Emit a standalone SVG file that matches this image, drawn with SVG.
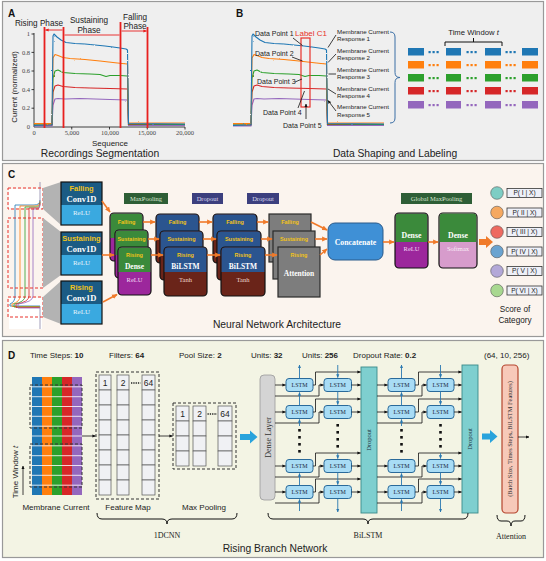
<svg xmlns="http://www.w3.org/2000/svg" width="546" height="561" viewBox="0 0 546 561">
<style>
.s{font-family:"Liberation Sans",Arial,sans-serif}
.r{font-family:"Liberation Serif","Times New Roman",serif}
.pl{font-family:"Liberation Sans",Arial,sans-serif;font-weight:bold;font-size:10px;fill:#111}
.ti{font-family:"Liberation Sans",Arial,sans-serif;font-size:10.3px;fill:#222;text-anchor:middle}
.tk{font-family:"Liberation Serif",serif;font-size:6.5px;fill:#444}
.ph{font-family:"Liberation Sans",Arial,sans-serif;font-size:8.2px;fill:#222;text-anchor:middle}
.dp{font-family:"Liberation Sans",Arial,sans-serif;font-size:7px;fill:#222}
.mc{font-family:"Liberation Sans",Arial,sans-serif;font-size:6.2px;fill:#222}
.ln{fill:none;stroke:#111;stroke-width:0.8}
.cu{fill:none;stroke-width:1.1;stroke-linejoin:round}
.rv{stroke:#e8201f;stroke-width:1.8}
.ra{stroke:#e8201f;stroke-width:0.9;fill:none}
.oa{stroke:#f07a2a;stroke-width:1.6;fill:none}
.cb{stroke:#111;stroke-width:1.2}
.yl{font-family:"Liberation Sans",Arial,sans-serif;font-weight:bold;fill:#f2c318;text-anchor:middle}
.wl{font-family:"Liberation Serif",serif;font-weight:bold;fill:#fff;text-anchor:middle}
.lt{font-family:"Liberation Serif",serif;text-anchor:middle}
.hd{font-family:"Liberation Sans",Arial,sans-serif;font-size:8px;fill:#222}
.cell{fill:#f0f1f4;stroke:#555;stroke-width:0.7}
.dash{fill:none;stroke:#333;stroke-width:1;stroke-dasharray:3 2}
.lstm{fill:#a8dcf5;stroke:#2a6a9a;stroke-width:1}
.lx{font-family:"Liberation Serif",serif;font-size:6px;fill:#1a2a40;text-anchor:middle}
.ba{fill:none;stroke:#2a78b0;stroke-width:0.9}
.br{fill:none;stroke:#111;stroke-width:1}
.cap{font-family:"Liberation Serif",serif;font-size:8px;fill:#222;text-anchor:middle}
.plab{font-family:"Liberation Sans",Arial,sans-serif;font-size:6.6px;fill:#222;text-anchor:middle}
</style>
<defs>
<marker id="mk" viewBox="0 0 8 8" refX="7" refY="4" markerWidth="4.5" markerHeight="4.5" orient="auto-start-reverse"><path d="M0,0.5L8,4L0,7.5z" fill="#111"/></marker>
<marker id="mr" viewBox="0 0 8 8" refX="7" refY="4" markerWidth="4" markerHeight="4" orient="auto-start-reverse"><path d="M0,0.5L8,4L0,7.5z" fill="#e8201f"/></marker>
<marker id="mo" viewBox="0 0 8 8" refX="7" refY="4" markerWidth="3.5" markerHeight="3.5" orient="auto"><path d="M0,0.5L8,4L0,7.5z" fill="#f07a2a"/></marker>
<marker id="mb" viewBox="0 0 8 8" refX="7" refY="4" markerWidth="4" markerHeight="4" orient="auto"><path d="M0,0.5L8,4L0,7.5z" fill="#2a78b0"/></marker>
<filter id="jit" x="-5%" y="-10%" width="110%" height="120%"><feTurbulence type="fractalNoise" baseFrequency="0.7" numOctaves="1" seed="3" result="n"/><feDisplacementMap in="SourceGraphic" in2="n" scale="2" xChannelSelector="R" yChannelSelector="G"/></filter>
<g id="curves">
<path class="cu" stroke="#9467bd" d="M34,126 L52,126 L53,105 L55,99 L58,98.5 L65,99 L80,98.5 L95,99 L110,99.5 L127.5,100 L128.5,125.5 L185,125.5"/>
<path class="cu" stroke="#d62728" d="M34,125 L52,125 L53,92 L55,86 L58,85 L63,86.5 L75,87.5 L90,88 L110,88.5 L127.5,89 L128.5,124.5 L185,124.5"/>
<path class="cu" stroke="#2ca02c" d="M34,124 L52,124 L53,78 L55,71 L58,70 L63,72.5 L75,73.5 L90,74 L100,74.5 L106,76.5 L110,75.5 L120,75.5 L127.5,76 L128.5,124 L185,124.5"/>
<path class="cu" stroke="#ff7f0e" d="M34,123.5 L52,123.5 L53,58 L55,54.5 L58,55.5 L63,57.5 L70,58.5 L85,59.5 L100,61 L113,62.5 L122,63.5 L127.5,64 L128.5,123 L185,123"/>
<path class="cu" stroke="#1f77b4" d="M34,125.5 L52,125 L53,36 L54,34 L57,37 L61,40 L66,42.5 L75,43.5 L85,44 L95,45 L105,46 L113,47 L120,48 L126,49 L127.5,50 L128.5,123.5 L185,124"/>
</g>
</defs>
<rect width="546" height="561" fill="#fff"/>
<rect x="2.5" y="1.5" width="541" height="159" fill="#efefef" stroke="#999" stroke-width="1.2"/>
<rect x="2.5" y="163.5" width="541" height="173" fill="#fbf4ee" stroke="#999" stroke-width="1.2"/>
<rect x="2.5" y="340.5" width="541" height="217" fill="#f3f4e4" stroke="#999" stroke-width="1.2"/>

<!-- Panel A -->
<g id="panelA">
<text class="pl" x="8" y="17">A</text>
<path class="ln" stroke="#555" d="M34,33 V127 H185 M31.5,34 H34 M31.5,52.4 H34 M31.5,71 H34 M31.5,89.6 H34 M31.5,108.2 H34 M71.75,127 V129.5 M109.5,127 V129.5 M147.25,127 V129.5 M185,127 V129.5"/>
<g class="tk" text-anchor="end"><text x="30" y="36">1</text><text x="30" y="54.5">0.8</text><text x="30" y="73">0.6</text><text x="30" y="91.5">0.4</text><text x="30" y="110">0.2</text><text x="30" y="129">0</text></g>
<g class="tk" text-anchor="middle"><text x="34" y="135">0</text><text x="72" y="135">5,000</text><text x="110" y="135">10,000</text><text x="147" y="135">15,000</text><text x="185" y="135">20,000</text></g>
<use href="#curves" filter="url(#jit)"/>
<path class="rv" d="M44.5,27 V128 M63.5,27 V128 M120.5,22 V128 M147.5,27 V128"/>
<path class="ra" d="M45.5,30 H62.5 M64.5,35 H119.5 M121.5,31 H146.5" marker-start="url(#mr)" marker-end="url(#mr)"/>
<text class="ph" x="39" y="26">Rising Phase</text>
<text class="ph" x="89" y="23">Sustaining</text><text class="ph" x="89" y="33">Phase</text>
<text class="ph" x="135" y="20">Falling</text><text class="ph" x="135" y="29">Phase</text>
<text class="s" font-size="7.8" fill="#222" text-anchor="middle" transform="translate(17,87) rotate(-90)">Current (normalized)</text>
<text class="s" font-size="8" fill="#222" text-anchor="middle" x="110" y="146">Sequence</text>
<text class="ti" x="100" y="157">Recordings Segmentation</text>
</g>

<!-- Panel B -->
<g id="panelB">
<text class="pl" x="236" y="17">B</text>
<use href="#curves" transform="translate(199,0)" filter="url(#jit)"/>
<rect x="301" y="38" width="9" height="69" fill="none" stroke="#e8312a" stroke-width="1.2"/>
<text class="s" font-size="8" fill="#e8312a" x="295" y="36">Label C1</text>
<text class="dp" x="255" y="36">Data Point 1</text>
<text class="dp" x="255" y="56">Data Point 2</text>
<text class="dp" x="257" y="84">Data Point 3</text>
<text class="dp" x="263" y="115">Data Point 4</text>
<text class="dp" x="283" y="128">Data Point 5</text>
<path class="ln" d="M293,38 L302.5,45.5 M292,57 L302.5,61 M295,82 L302,79 M298,108 L304.5,91 M306,119 V104" marker-end="url(#mk)"/>
<g class="mc"><text x="337" y="34">Membrane Current</text><text x="337" y="41">Response 1</text>
<text x="337" y="53">Membrane Current</text><text x="337" y="60">Response 2</text>
<text x="337" y="72">Membrane Current</text><text x="337" y="79">Response 3</text>
<text x="337" y="91">Membrane Current</text><text x="337" y="98">Response 4</text>
<text x="337" y="109">Membrane Current</text><text x="337" y="117">Response 5</text></g>
<path class="ln" d="M336,35 L328,47.5 M336,54 L328,62.5 M336,74 L328.5,74 M336,94 L328,89 M336,111 L328,100.5" marker-end="url(#mk)"/>
<path fill="none" stroke="#3a6ea5" stroke-width="1" d="M390,32 Q395,32 395,37 V72.5 Q395,77.5 400,77.5 Q395,77.5 395,82.5 V118 Q395,123 390,123"/>
<text class="s" font-size="7.7" fill="#222" text-anchor="middle" x="473.5" y="35">Time Window <tspan font-style="italic">t</tspan></text>
<path class="br" d="M445,46 V42 H502 V46 M473.5,42 V38"/>
<g id="bars">
<g fill="#1f77b4"><rect x="408" y="48" width="16" height="7.5"/><rect x="446" y="48" width="15" height="7.5"/><rect x="485" y="48" width="16" height="7.5"/><rect x="522" y="48" width="16" height="7.5"/><rect x="428.5" y="51" width="2.2" height="2.2"/><rect x="432.5" y="51" width="2.2" height="2.2"/><rect x="436.5" y="51" width="2.2" height="2.2"/><rect x="466.5" y="51" width="2.2" height="2.2"/><rect x="470.5" y="51" width="2.2" height="2.2"/><rect x="474.5" y="51" width="2.2" height="2.2"/><rect x="505.5" y="51" width="2.2" height="2.2"/><rect x="509.5" y="51" width="2.2" height="2.2"/><rect x="513.5" y="51" width="2.2" height="2.2"/></g>
<g fill="#ff7f0e"><rect x="408" y="61" width="16" height="7.5"/><rect x="446" y="61" width="15" height="7.5"/><rect x="485" y="61" width="16" height="7.5"/><rect x="522" y="61" width="16" height="7.5"/><rect x="428.5" y="64" width="2.2" height="2.2"/><rect x="432.5" y="64" width="2.2" height="2.2"/><rect x="436.5" y="64" width="2.2" height="2.2"/><rect x="466.5" y="64" width="2.2" height="2.2"/><rect x="470.5" y="64" width="2.2" height="2.2"/><rect x="474.5" y="64" width="2.2" height="2.2"/><rect x="505.5" y="64" width="2.2" height="2.2"/><rect x="509.5" y="64" width="2.2" height="2.2"/><rect x="513.5" y="64" width="2.2" height="2.2"/></g>
<g fill="#2ca02c"><rect x="408" y="74" width="16" height="7.5"/><rect x="446" y="74" width="15" height="7.5"/><rect x="485" y="74" width="16" height="7.5"/><rect x="522" y="74" width="16" height="7.5"/><rect x="428.5" y="77" width="2.2" height="2.2"/><rect x="432.5" y="77" width="2.2" height="2.2"/><rect x="436.5" y="77" width="2.2" height="2.2"/><rect x="466.5" y="77" width="2.2" height="2.2"/><rect x="470.5" y="77" width="2.2" height="2.2"/><rect x="474.5" y="77" width="2.2" height="2.2"/><rect x="505.5" y="77" width="2.2" height="2.2"/><rect x="509.5" y="77" width="2.2" height="2.2"/><rect x="513.5" y="77" width="2.2" height="2.2"/></g>
<g fill="#d62728"><rect x="408" y="87" width="16" height="7.5"/><rect x="446" y="87" width="15" height="7.5"/><rect x="485" y="87" width="16" height="7.5"/><rect x="522" y="87" width="16" height="7.5"/><rect x="428.5" y="90" width="2.2" height="2.2"/><rect x="432.5" y="90" width="2.2" height="2.2"/><rect x="436.5" y="90" width="2.2" height="2.2"/><rect x="466.5" y="90" width="2.2" height="2.2"/><rect x="470.5" y="90" width="2.2" height="2.2"/><rect x="474.5" y="90" width="2.2" height="2.2"/><rect x="505.5" y="90" width="2.2" height="2.2"/><rect x="509.5" y="90" width="2.2" height="2.2"/><rect x="513.5" y="90" width="2.2" height="2.2"/></g>
<g fill="#9467bd"><rect x="408" y="101" width="16" height="7.5"/><rect x="446" y="101" width="15" height="7.5"/><rect x="485" y="101" width="16" height="7.5"/><rect x="522" y="101" width="16" height="7.5"/><rect x="428.5" y="104" width="2.2" height="2.2"/><rect x="432.5" y="104" width="2.2" height="2.2"/><rect x="436.5" y="104" width="2.2" height="2.2"/><rect x="466.5" y="104" width="2.2" height="2.2"/><rect x="470.5" y="104" width="2.2" height="2.2"/><rect x="474.5" y="104" width="2.2" height="2.2"/><rect x="505.5" y="104" width="2.2" height="2.2"/><rect x="509.5" y="104" width="2.2" height="2.2"/><rect x="513.5" y="104" width="2.2" height="2.2"/></g>
</g>
<text class="ti" x="395" y="157">Data Shaping and Labeling</text>
</g>

<!-- Panel C -->
<g id="panelC">
<text class="pl" x="8" y="178">C</text>
<g id="traces">
<rect x="9" y="189" width="33" height="19" fill="#fff"/>
<rect x="9" y="298" width="33" height="31" fill="#fff"/>
<g fill="none" stroke-width="0.8">
<path stroke="#1f77b4" d="M40,200 Q40,205 34,205 H15 V296 Q15,302 10,304 L10,306 H40"/>
<path stroke="#ff7f0e" d="M40,201 Q40,206 35,206 H20 V296 Q20,302 12,304 L12,306.5 H40"/>
<path stroke="#2ca02c" d="M40,202 Q40,207 36,207 H25 V296 Q25,302 14,304 L14,307 H40"/>
<path stroke="#d62728" d="M40,203 Q40,208 37,208 H29 V296 Q29,302 16,304 L16,307.5 H40"/>
<path stroke="#9467bd" d="M40,204 Q40,209 38,209 H33 V296 Q33,302 18,304 L18,308 H40"/>
<path stroke="#8a86a8" d="M40,182 V203 M40,306 V329"/>
</g>
<g fill="none" stroke="#e8312a" stroke-width="1" stroke-dasharray="3 2"><rect x="8" y="188" width="35" height="21"/><rect x="8" y="218" width="35" height="70"/><rect x="8" y="297" width="35" height="20"/></g>
<g fill="#b3b3b3"><polygon points="43,188 61,182 61,225 43,209"/><polygon points="43,218 61,232 61,275 43,288"/><polygon points="43,297 61,281 61,324 43,317"/></g>
</g>
<g id="conv-falling"><rect x="61" y="182" width="41" height="43" fill="#3aa9e0"/><rect x="61" y="182" width="41" height="23" fill="#1b5b84"/><rect x="61" y="182" width="41" height="43" fill="none" class="cb"/>
<text class="yl" font-size="7.5" x="81.5" y="191">Falling</text><text class="wl" font-size="8.5" x="81.5" y="202">Conv1D</text><text class="lt" font-size="7" fill="#e6f4fb" x="81.5" y="214.5">ReLU</text></g>
<g id="conv-sustaining"><rect x="61" y="232" width="41" height="43" fill="#3aa9e0"/><rect x="61" y="232" width="41" height="23" fill="#1b5b84"/><rect x="61" y="232" width="41" height="43" fill="none" class="cb"/>
<text class="yl" font-size="7.5" x="81.5" y="241">Sustaining</text><text class="wl" font-size="8.5" x="81.5" y="252">Conv1D</text><text class="lt" font-size="7" fill="#e6f4fb" x="81.5" y="264.5">ReLU</text></g>
<g id="conv-rising"><rect x="61" y="281" width="41" height="43" fill="#3aa9e0"/><rect x="61" y="281" width="41" height="23" fill="#1b5b84"/><rect x="61" y="281" width="41" height="43" fill="none" class="cb"/>
<text class="yl" font-size="7.5" x="81.5" y="290">Rising</text><text class="wl" font-size="8.5" x="81.5" y="301">Conv1D</text><text class="lt" font-size="7" fill="#e6f4fb" x="81.5" y="313.5">ReLU</text></g>

<g id="lab-maxpool"><rect x="124" y="193" width="44" height="11" fill="#2e5e36"/><text class="lt" font-size="6.5" fill="#d8e6d0" x="146" y="200.5">MaxPooling</text></g>
<g id="lab-drop1"><rect x="192" y="193" width="31" height="11" fill="#3c3f7e"/><text class="lt" font-size="6.5" fill="#d8d8ee" x="207.5" y="200.5">Dropout</text></g>
<g id="lab-drop2"><rect x="247" y="193" width="32" height="11" fill="#3c3f7e"/><text class="lt" font-size="6.5" fill="#d8d8ee" x="263" y="200.5">Dropout</text></g>
<g id="lab-gmp"><rect x="401" y="193" width="71" height="11" fill="#2e5e36"/><text class="lt" font-size="6.5" fill="#d8e6d0" x="436.5" y="200.5">Global MaxPooling</text></g>

<g id="dense-stack">
<rect x="110" y="213" width="33" height="48" rx="4" fill="#9c279c" class="cb"/><path d="M110.6,238 V217 Q110.6,213.6 114,213.6 H139 Q142.4,213.6 142.4,217 V238 Z" fill="#3b8a3b"/>
<text class="yl" font-size="5.5" x="126.5" y="224">Falling</text>
<rect x="115" y="230" width="33" height="48" rx="4" fill="#9c279c" class="cb"/><path d="M115.6,255 V234 Q115.6,230.6 119,230.6 H144 Q147.4,230.6 147.4,234 V255 Z" fill="#3b8a3b"/>
<text class="yl" font-size="5.5" x="131.5" y="241">Sustaining</text>
<rect x="118" y="247" width="33" height="48" rx="4" fill="#9c279c" class="cb"/><path d="M118.6,272 V251 Q118.6,247.6 122,247.6 H147 Q150.4,247.6 150.4,251 V272 Z" fill="#3b8a3b"/>
<text class="yl" font-size="5.5" x="134.5" y="257">Rising</text><text class="wl" font-size="7.5" x="134.5" y="268.5">Dense</text><text class="lt" font-size="6.5" fill="#f3d8f3" x="134.5" y="282">ReLU</text>
</g>
<g id="bilstm-stack1">
<rect x="156" y="214" width="43" height="49" rx="4" fill="#6a2419" class="cb"/><path d="M156.6,239 V218 Q156.6,214.6 160,214.6 H195 Q198.4,214.6 198.4,218 V239 Z" fill="#2b558f"/>
<text class="yl" font-size="5.5" x="177.5" y="224">Falling</text>
<rect x="160" y="231" width="43" height="49" rx="4" fill="#6a2419" class="cb"/><path d="M160.6,256 V235 Q160.6,231.6 164,231.6 H199 Q202.4,231.6 202.4,235 V256 Z" fill="#2b558f"/>
<text class="yl" font-size="5.5" x="181.5" y="241">Sustaining</text>
<rect x="164" y="247" width="43" height="49" rx="4" fill="#6a2419" class="cb"/><path d="M164.6,272 V251 Q164.6,247.6 168,247.6 H203 Q206.4,247.6 206.4,251 V272 Z" fill="#2b558f"/>
<text class="yl" font-size="5.5" x="185.5" y="257">Rising</text><text class="wl" font-size="7.5" x="185.5" y="269">BiLSTM</text><text class="lt" font-size="6.5" fill="#f0d8d0" x="185.5" y="282">Tanh</text>
</g>
<g id="bilstm-stack2">
<rect x="213" y="214" width="44" height="49" rx="4" fill="#6a2419" class="cb"/><path d="M213.6,239 V218 Q213.6,214.6 217,214.6 H253 Q256.4,214.6 256.4,218 V239 Z" fill="#2b558f"/>
<text class="yl" font-size="5.5" x="235" y="224">Falling</text>
<rect x="217" y="231" width="44" height="49" rx="4" fill="#6a2419" class="cb"/><path d="M217.6,256 V235 Q217.6,231.6 221,231.6 H257 Q260.4,231.6 260.4,235 V256 Z" fill="#2b558f"/>
<text class="yl" font-size="5.5" x="239" y="241">Sustaining</text>
<rect x="221" y="247" width="44" height="49" rx="4" fill="#6a2419" class="cb"/><path d="M221.6,272 V251 Q221.6,247.6 225,247.6 H261 Q264.4,247.6 264.4,251 V272 Z" fill="#2b558f"/>
<text class="yl" font-size="5.5" x="243" y="257">Rising</text><text class="wl" font-size="7.5" x="243" y="269">BiLSTM</text><text class="lt" font-size="6.5" fill="#f0d8d0" x="243" y="282">Tanh</text>
</g>
<g id="attention-stack">
<rect x="269" y="214" width="42" height="48" fill="#7d7d7d" stroke="#2a2a2a" stroke-width="1.2"/><text class="yl" font-size="5.5" x="290" y="224">Falling</text>
<rect x="273" y="231" width="42" height="48" fill="#7d7d7d" stroke="#2a2a2a" stroke-width="1.2"/><text class="yl" font-size="5.5" x="294" y="241">Sustaining</text>
<rect x="278" y="247" width="42" height="50" fill="#7d7d7d" stroke="#2a2a2a" stroke-width="1.2"/><text class="yl" font-size="5.5" x="299" y="257">Rising</text><text class="wl" font-size="7.5" x="299" y="276">Attention</text>
</g>
<g id="concatenate"><rect x="328" y="223" width="55" height="37" rx="7" fill="#3f90d6" stroke="#2a5a8a" stroke-width="1"/><text class="wl" font-size="7.8" x="355.5" y="244.5">Concatenate</text></g>
<g id="dense-relu"><rect x="395" y="213" width="33" height="55" rx="4" fill="#9c279c" class="cb"/><path d="M395.6,242 V217 Q395.6,213.6 399,213.6 H424 Q427.4,213.6 427.4,217 V242 Z" fill="#3b8a3b"/>
<text class="wl" font-size="7.8" x="411.5" y="237.5">Dense</text><text class="lt" font-size="6.5" fill="#f3d8f3" x="411.5" y="251">ReLU</text></g>
<g id="dense-softmax"><rect x="439" y="213" width="38" height="55" rx="4" fill="#d79ccc" class="cb"/><path d="M439.6,242 V217 Q439.6,213.6 443,213.6 H473 Q476.4,213.6 476.4,217 V242 Z" fill="#3b8a3b"/>
<text class="wl" font-size="7.8" x="458" y="237.5">Dense</text><text class="lt" font-size="6.5" fill="#fbeef8" x="458" y="251">Softmax</text></g>
<polygon points="479,239 486,239 486,236 493,242 486,248 486,245 479,245" fill="#f07a2a"/>
<g id="scores">
<circle cx="497" cy="193" r="6.3" fill="#7ecdc4" stroke="#555" stroke-width="0.6"/>
<circle cx="497" cy="212.5" r="6.3" fill="#f5a860" stroke="#555" stroke-width="0.6"/>
<circle cx="497" cy="232" r="6.3" fill="#ee6a60" stroke="#555" stroke-width="0.6"/>
<circle cx="497" cy="251.5" r="6.3" fill="#6aa3d0" stroke="#555" stroke-width="0.6"/>
<circle cx="497" cy="271" r="6.3" fill="#b3a8d8" stroke="#555" stroke-width="0.6"/>
<circle cx="497" cy="290.5" r="6.3" fill="#a8d890" stroke="#555" stroke-width="0.6"/>
<g fill="#eef0f8" stroke="#333" stroke-width="0.8"><rect x="507" y="188.5" width="35" height="9"/><rect x="507" y="208" width="35" height="9"/><rect x="507" y="227.5" width="35" height="9"/><rect x="507" y="247" width="35" height="9"/><rect x="507" y="266.5" width="35" height="9"/><rect x="507" y="286" width="35" height="9"/></g>
<text class="plab" x="524.5" y="195.3">P( I | X)</text><text class="plab" x="524.5" y="214.8">P( II | X)</text><text class="plab" x="524.5" y="234.3">P( III | X)</text><text class="plab" x="524.5" y="253.8">P( IV | X)</text><text class="plab" x="524.5" y="273.3">P( V | X)</text><text class="plab" x="524.5" y="292.8">P( VI | X)</text>
<text class="s" font-size="8.2" fill="#222" text-anchor="middle" x="515" y="312">Score of</text><text class="s" font-size="8.2" fill="#222" text-anchor="middle" x="515" y="323">Category</text>
</g>
<g id="c-connectors" class="oa" marker-end="url(#mo)">
<path d="M102,201 L110,212"/><path d="M102,255 L114,255"/><path d="M103,302 L117,294.5"/>
<path d="M143,222 H155"/><path d="M148,239 H159"/><path d="M151,255 H163"/>
<path d="M199,222 H212"/><path d="M203,239 H216"/><path d="M207,255 H220"/>
<path d="M257,222 H268"/><path d="M261,239 H272"/><path d="M265,255 H277"/>
<path d="M311,222 L327,230"/><path d="M315,239 H327"/><path d="M320,255 L327,249"/>
<path d="M383,242 H394"/><path d="M428,242 H438"/>
</g>
<text class="ti" x="277" y="328">Neural Network Architecture</text>
</g>

<!-- Panel D -->
<g id="panelD">
<text class="pl" x="8" y="359">D</text>
<g class="hd"><text x="30" y="358">Time Steps: <tspan font-weight="bold">10</tspan></text><text x="109" y="358">Filters: <tspan font-weight="bold">64</tspan></text><text x="179" y="358">Pool Size: <tspan font-weight="bold">2</tspan></text><text x="251" y="358">Units: <tspan font-weight="bold">32</tspan></text><text x="302" y="358">Units: <tspan font-weight="bold">256</tspan></text><text x="353" y="358">Dropout Rate: <tspan font-weight="bold">0.2</tspan></text><text x="484" y="358">(64, 10, 256)</text></g>
<g id="membrane-grid">
<rect x="32" y="377" width="10" height="118" fill="#1f77b4"/><rect x="42" y="377" width="10" height="118" fill="#ff7f0e"/><rect x="52" y="377" width="10" height="118" fill="#2ca02c"/><rect x="62" y="377" width="10" height="118" fill="#d62728"/><rect x="72" y="377" width="10" height="118" fill="#9467bd"/>
<path stroke="#fff" stroke-width="0.8" d="M32,386.8 H82 M32,396.7 H82 M32,406.5 H82 M32,416.3 H82 M32,426.2 H82 M32,436 H82 M32,445.8 H82 M32,455.7 H82 M32,465.5 H82 M32,475.3 H82 M32,485.2 H82"/>
<rect x="30" y="385" width="52" height="43" class="dash"/><rect x="30" y="444" width="52" height="43" class="dash"/>
<text class="s" font-size="8" fill="#222" text-anchor="middle" transform="translate(17.5,472) rotate(-90)">Time Window <tspan font-style="italic">t</tspan></text>
<path class="ln" stroke-width="0.9" d="M23,495 V466" marker-end="url(#mk)"/>
<text class="s" font-size="8" fill="#222" text-anchor="middle" x="56" y="510">Membrane Current</text>
</g>
<path class="ln" d="M82,436 H95.5" marker-end="url(#mk)"/>
<g id="feature-map">
<rect x="96" y="372" width="63" height="127" class="dash"/>
<rect x="99" y="375" width="12" height="15" class="cell"/><rect x="99" y="390" width="12" height="15" class="cell"/><rect x="99" y="405" width="12" height="15" class="cell"/><rect x="99" y="420" width="12" height="15" class="cell"/><rect x="99" y="435" width="12" height="15" class="cell"/><rect x="99" y="450" width="12" height="15" class="cell"/><rect x="99" y="465" width="12" height="15" class="cell"/><rect x="99" y="480" width="12" height="15" class="cell"/>
<rect x="117" y="375" width="12" height="15" class="cell"/><rect x="117" y="390" width="12" height="15" class="cell"/><rect x="117" y="405" width="12" height="15" class="cell"/><rect x="117" y="420" width="12" height="15" class="cell"/><rect x="117" y="435" width="12" height="15" class="cell"/><rect x="117" y="450" width="12" height="15" class="cell"/><rect x="117" y="465" width="12" height="15" class="cell"/><rect x="117" y="480" width="12" height="15" class="cell"/>
<rect x="142" y="375" width="13" height="15" class="cell"/><rect x="142" y="390" width="13" height="15" class="cell"/><rect x="142" y="405" width="13" height="15" class="cell"/><rect x="142" y="420" width="13" height="15" class="cell"/><rect x="142" y="435" width="13" height="15" class="cell"/><rect x="142" y="450" width="13" height="15" class="cell"/><rect x="142" y="465" width="13" height="15" class="cell"/><rect x="142" y="480" width="13" height="15" class="cell"/>
<g class="s" font-size="8.5" fill="#222" text-anchor="middle"><text x="105" y="386">1</text><text x="123" y="386">2</text><text x="148.5" y="386">64</text></g>
<path stroke="#222" stroke-width="1.6" stroke-dasharray="1.3 1" d="M131,383 H140.5"/>
<text class="s" font-size="8" fill="#222" text-anchor="middle" x="128" y="510">Feature Map</text>
</g>
<path class="ln" d="M159,436 H172.5" marker-end="url(#mk)"/>
<g id="max-pooling">
<rect x="173" y="403" width="63" height="66" class="dash"/>
<rect x="176" y="406" width="13" height="15" class="cell"/><rect x="176" y="421" width="13" height="15" class="cell"/><rect x="176" y="436" width="13" height="15" class="cell"/><rect x="176" y="451" width="13" height="15" class="cell"/>
<rect x="193" y="406" width="13" height="15" class="cell"/><rect x="193" y="421" width="13" height="15" class="cell"/><rect x="193" y="436" width="13" height="15" class="cell"/><rect x="193" y="451" width="13" height="15" class="cell"/>
<rect x="218" y="406" width="14" height="15" class="cell"/><rect x="218" y="421" width="14" height="15" class="cell"/><rect x="218" y="436" width="14" height="15" class="cell"/><rect x="218" y="451" width="14" height="15" class="cell"/>
<g class="s" font-size="8.5" fill="#222" text-anchor="middle"><text x="182.5" y="417">1</text><text x="199.5" y="417">2</text><text x="225" y="417">64</text></g>
<path stroke="#222" stroke-width="1.6" stroke-dasharray="1.3 1" d="M207.5,414 H217"/>
<text class="s" font-size="8" fill="#222" text-anchor="middle" x="204" y="510">Max Pooling</text>
</g>
<path class="br" d="M97,513 Q97,519 102,519 H162 Q167,519 167,524 Q167,519 172,519 H232 Q237,519 237,513"/>
<text class="cap" x="167" y="538">1DCNN</text>
<polygon points="240,434 250,434 250,430.5 257.5,437 250,443.5 250,440 240,440" fill="#29a3dc"/>
<g id="dense-layer"><rect x="260" y="375" width="15" height="125" rx="4" fill="#d4d4d4" stroke="#999" stroke-width="0.8"/><text class="lt" font-size="8" fill="#333" transform="translate(270.5,437.5) rotate(-90)">Dense Layer</text></g>
<g id="lstm-cells">
<rect x="286" y="378.5" width="27" height="13" rx="3" class="lstm"/><rect x="324" y="378.5" width="27.5" height="13" rx="3" class="lstm"/><rect x="388" y="378.5" width="27" height="13" rx="3" class="lstm"/><rect x="427" y="378.5" width="27" height="13" rx="3" class="lstm"/>
<rect x="286" y="405.5" width="27" height="13" rx="3" class="lstm"/><rect x="324" y="405.5" width="27.5" height="13" rx="3" class="lstm"/><rect x="388" y="405.5" width="27" height="13" rx="3" class="lstm"/><rect x="427" y="405.5" width="27" height="13" rx="3" class="lstm"/>
<rect x="286" y="459.5" width="27" height="13" rx="3" class="lstm"/><rect x="324" y="459.5" width="27.5" height="13" rx="3" class="lstm"/><rect x="388" y="459.5" width="27" height="13" rx="3" class="lstm"/><rect x="427" y="459.5" width="27" height="13" rx="3" class="lstm"/>
<rect x="286" y="485.5" width="27" height="13" rx="3" class="lstm"/><rect x="324" y="485.5" width="27.5" height="13" rx="3" class="lstm"/><rect x="388" y="485.5" width="27" height="13" rx="3" class="lstm"/><rect x="427" y="485.5" width="27" height="13" rx="3" class="lstm"/>
<g class="lx"><text x="299.5" y="387.2">LSTM</text><text x="337.75" y="387.2">LSTM</text><text x="401.5" y="387.2">LSTM</text><text x="440.5" y="387.2">LSTM</text>
<text x="299.5" y="414.2">LSTM</text><text x="337.75" y="414.2">LSTM</text><text x="401.5" y="414.2">LSTM</text><text x="440.5" y="414.2">LSTM</text>
<text x="299.5" y="468.2">LSTM</text><text x="337.75" y="468.2">LSTM</text><text x="401.5" y="468.2">LSTM</text><text x="440.5" y="468.2">LSTM</text>
<text x="299.5" y="494.2">LSTM</text><text x="337.75" y="494.2">LSTM</text><text x="401.5" y="494.2">LSTM</text><text x="440.5" y="494.2">LSTM</text></g>
</g>
<g id="dropout1"><rect x="361" y="367" width="16" height="146" fill="#7ecfcf" stroke="#3a8a8a" stroke-width="0.9"/><text class="lt" font-size="6.5" fill="#234" transform="translate(371.3,440) rotate(-90)">Dropout</text></g>
<g id="dropout2"><rect x="462" y="365" width="16" height="148" fill="#7ecfcf" stroke="#3a8a8a" stroke-width="0.9"/><text class="lt" font-size="6.5" fill="#234" transform="translate(472.3,439) rotate(-90)">Dropout</text></g>
<g id="lstm-connectors" class="ln" marker-end="url(#mk)">
<path d="M275,385 H285.5"/><path d="M275,396 H319 V385 H323.5"/><path d="M313,385 H315.5 V372 H360.5"/><path d="M351.5,385 H360.5"/>
<path d="M275,412 H285.5"/><path d="M275,423 H319 V412 H323.5"/><path d="M313,412 H315.5 V399 H360.5"/><path d="M351.5,412 H360.5"/>
<path d="M275,466 H285.5"/><path d="M275,477 H319 V466 H323.5"/><path d="M313,466 H315.5 V453 H360.5"/><path d="M351.5,466 H360.5"/>
<path d="M275,492 H285.5"/><path d="M275,503 H319 V492 H323.5"/><path d="M313,492 H315.5 V479 H360.5"/><path d="M351.5,492 H360.5"/>
<path d="M377,385 H387.5"/><path d="M377,396 H422 V385 H426.5"/><path d="M415,385 H418.5 V372 H461.5"/><path d="M454,385 H461.5"/>
<path d="M377,412 H387.5"/><path d="M377,423 H422 V412 H426.5"/><path d="M415,412 H418.5 V399 H461.5"/><path d="M454,412 H461.5"/>
<path d="M377,466 H387.5"/><path d="M377,477 H422 V466 H426.5"/><path d="M415,466 H418.5 V453 H461.5"/><path d="M454,466 H461.5"/>
<path d="M377,492 H387.5"/><path d="M377,503 H422 V492 H426.5"/><path d="M415,492 H418.5 V479 H461.5"/><path d="M454,492 H461.5"/>
</g>
<g id="lstm-vertical" class="ba" marker-end="url(#mb)">
<path d="M299.5,511 V499.5"/><path d="M299.5,485.5 V473.5"/><path d="M299.5,426 V419.5"/><path d="M299.5,405.5 V392.5"/><path d="M299.5,378.5 V365"/>
<path d="M401.5,511 V499.5"/><path d="M401.5,485.5 V473.5"/><path d="M401.5,426 V419.5"/><path d="M401.5,405.5 V392.5"/><path d="M401.5,378.5 V365"/>
<path d="M337.75,365 V377.5"/><path d="M337.75,391.5 V404.5"/><path d="M337.75,453 V458.5"/><path d="M337.75,472.5 V484.5"/><path d="M337.75,498.5 V512"/>
<path d="M440.5,365 V377.5"/><path d="M440.5,391.5 V404.5"/><path d="M440.5,453 V458.5"/><path d="M440.5,472.5 V484.5"/><path d="M440.5,498.5 V512"/>
</g>
<g id="lstm-dots" fill="#111">
<rect x="298.2" y="429" width="2.6" height="2.6"/><rect x="298.2" y="436" width="2.6" height="2.6"/><rect x="298.2" y="443" width="2.6" height="2.6"/><rect x="298.2" y="450" width="2.6" height="2.6"/>
<rect x="336.4" y="424" width="2.6" height="2.6"/><rect x="336.4" y="431" width="2.6" height="2.6"/><rect x="336.4" y="438" width="2.6" height="2.6"/><rect x="336.4" y="445" width="2.6" height="2.6"/>
<rect x="400.2" y="429" width="2.6" height="2.6"/><rect x="400.2" y="436" width="2.6" height="2.6"/><rect x="400.2" y="443" width="2.6" height="2.6"/><rect x="400.2" y="450" width="2.6" height="2.6"/>
<rect x="439.2" y="424" width="2.6" height="2.6"/><rect x="439.2" y="431" width="2.6" height="2.6"/><rect x="439.2" y="438" width="2.6" height="2.6"/><rect x="439.2" y="445" width="2.6" height="2.6"/>
</g>
<path class="br" d="M268,513 Q268,519 273,519 H363 Q368,519 368,524 Q368,519 373,519 H463 Q468,519 468,513"/>
<text class="cap" x="368" y="538">BiLSTM</text>
<polygon points="482,433.5 490,433.5 490,430 497.5,436.5 490,443 490,439.5 482,439.5" fill="#29a3dc"/>
<g id="attention-box"><rect x="502" y="365" width="16" height="148" rx="4" fill="#f7c9b9" stroke="#b5452e" stroke-width="1.2"/><text class="lt" font-size="6.4" fill="#333" transform="translate(512.3,439) rotate(-90)">(Batch Size, Times Steps, BiLSTM Features)</text></g>
<path class="ln" d="M518,437 H529" marker-end="url(#mk)"/>
<path class="br" d="M497,515 Q497,521 501,521 H507 Q511,521 511,526 Q511,521 515,521 H521 Q525,521 525,515"/>
<text class="cap" x="511" y="539">Attention</text>
<text class="ti" x="275" y="552">Rising Branch Network</text>
</g>
</svg>
